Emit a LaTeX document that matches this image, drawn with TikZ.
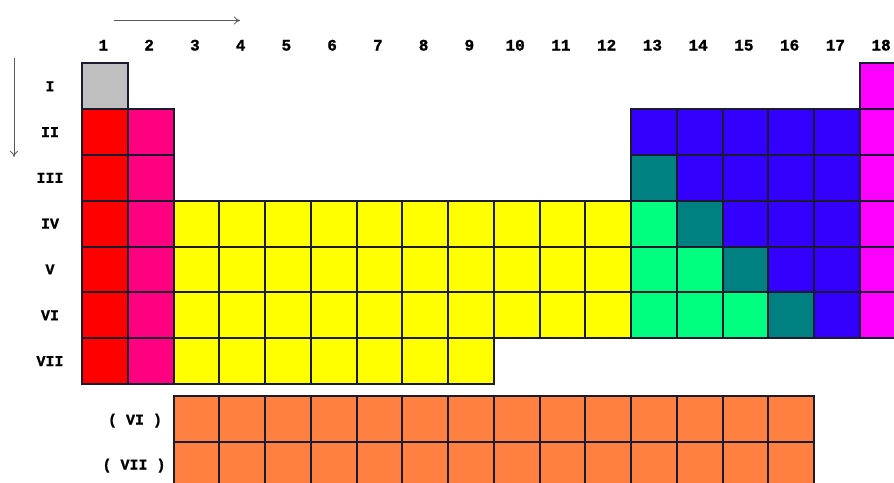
\documentclass[tikz,border=0pt]{standalone}
\usepackage{fontspec}
\newfontfamily\lblfont{Liberation Mono}[BoldFeatures={FakeBold=1.2}]
\usetikzlibrary{arrows.meta}
\definecolor{gr}{HTML}{C0C0C0}
\definecolor{rd}{HTML}{FF0000}
\definecolor{pk}{HTML}{FF0080}
\definecolor{ye}{HTML}{FFFF00}
\definecolor{bl}{HTML}{3300FF}
\definecolor{tl}{HTML}{008080}
\definecolor{gn}{HTML}{00FF80}
\definecolor{mg}{HTML}{FF00FF}
\definecolor{og}{HTML}{FF8040}
\definecolor{linec}{HTML}{1A1A30}
\begin{document}
\begin{tikzpicture}[x=1pt,y=-1pt,
  cell/.style={inner sep=0pt, outer sep=0pt, minimum size=0pt},
  edge/.style={draw=linec, line width=1.5pt},
  hdr/.style={font=\lblfont\bfseries\fontsize{16}{16}\selectfont, text=black, inner sep=0pt, anchor=base},
  lbl/.style={font=\lblfont\bfseries\fontsize{15}{15}\selectfont, text=black, inner sep=0pt, anchor=base},
  arr/.style={draw=black!65, line width=0.8pt, -{To[length=6pt,width=8pt]}}]
\useasboundingbox (0,0) rectangle (894,482);
\clip (0,0) rectangle (894,482);
% cell placing: #1 name, #2 column, #3 top y (unrounded), #4 colour
\newcommand\pcell[4]{%
  \pgfmathsetmacro\xa{round(82+(#2-1)*45.75)}%
  \pgfmathsetmacro\xb{round(82+(#2)*45.75)}%
  \pgfmathsetmacro\ya{round(#3)}%
  \pgfmathsetmacro\yb{round(#3+45.8)}%
  \node[cell, fill=#4, minimum width={(\xb-\xa)*1pt}, minimum height={(\yb-\ya)*1pt}, anchor=north west] (#1) at (\xa,\ya) {};}
\newcommand\pedge[1]{\draw[edge] (#1.north west) rectangle (#1.south east);}
% s-block
\pcell{c1r1}{1}{63.3}{gr}
\foreach \r in {2,...,7} {
  \pcell{c1r\r}{1}{63.3+(\r-1)*45.8}{rd}
  \pcell{c2r\r}{2}{63.3+(\r-1)*45.8}{pk}
}
% d-block
\foreach \c in {3,...,9} \foreach \r in {4,...,7}
  {\pcell{c\c r\r}{\c}{63.3+(\r-1)*45.8}{ye}}
\foreach \c in {10,11,12} \foreach \r in {4,5,6}
  {\pcell{c\c r\r}{\c}{63.3+(\r-1)*45.8}{ye}}
% p-block
\foreach \c/\r/\k in {13/2/bl,14/2/bl,15/2/bl,16/2/bl,17/2/bl,
  13/3/tl,14/3/bl,15/3/bl,16/3/bl,17/3/bl,
  13/4/gn,14/4/tl,15/4/bl,16/4/bl,17/4/bl,
  13/5/gn,14/5/gn,15/5/tl,16/5/bl,17/5/bl,
  13/6/gn,14/6/gn,15/6/gn,16/6/tl,17/6/bl}
  {\pcell{c\c r\r}{\c}{63.3+(\r-1)*45.8}{\k}}
\foreach \r in {1,...,6}
  {\pcell{c18r\r}{18}{63.3+(\r-1)*45.8}{mg}}
% f-block
\foreach \c in {3,...,16} {
  \pcell{la\c}{\c}{396}{og}
  \pcell{ac\c}{\c}{441.8}{og}
}
% cell outlines, drawn after all fills
\pedge{c1r1}
\foreach \c in {1,2} \foreach \r in {2,...,7} {\pedge{c\c r\r}}
\foreach \c in {3,...,9} \foreach \r in {4,...,7} {\pedge{c\c r\r}}
\foreach \c in {10,...,17} \foreach \r in {4,5,6} {\pedge{c\c r\r}}
\foreach \c in {13,...,17} \foreach \r in {2,3} {\pedge{c\c r\r}}
\foreach \r in {1,...,6} {\pedge{c18r\r}}
\foreach \c in {3,...,16} {\pedge{la\c}\pedge{ac\c}}
% column numbers
\foreach \c in {1,...,18}
  \node[hdr] (h\c) at ({82+(\c-0.5)*45.75-1.5},50.5) {\c};
% row labels
\foreach \r/\t in {1/I,2/II,3/III,4/IV,5/V,6/VI,7/VII}
  \node[lbl] (p\r) at (50,{63.3+(\r-0.5)*45.8+5}) {\t};
\node[lbl] (lvi) at (135,424.5) {( VI )};
\node[lbl] (lvii) at (134,469.5) {( VII )};
% arrows
\coordinate (ha) at (114,20.5);
\coordinate (hb) at (240,20.5);
\coordinate (va) at (14,58);
\coordinate (vb) at (14,157);
\draw[arr] (ha) -- (hb);
\draw[arr] (va) -- (vb);
\end{tikzpicture}
\end{document}
